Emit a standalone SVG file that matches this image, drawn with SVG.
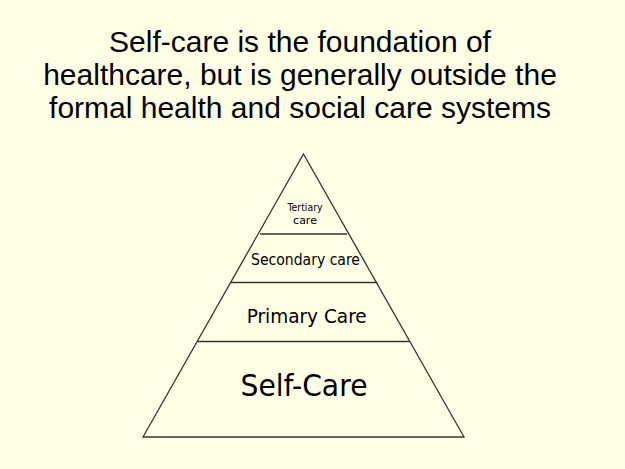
<svg xmlns="http://www.w3.org/2000/svg" width="625" height="469" viewBox="0 0 625 469">
<style>
.title{font-family:"Liberation Sans",Arial,sans-serif;font-size:30px;fill:#000;text-anchor:middle}
.lbl{font-family:"DejaVu Sans",Tahoma,sans-serif;fill:#000;text-anchor:middle}
.ln{stroke:#333;stroke-width:1.3;fill:none}
</style>
<rect width="625" height="469" fill="#ffffe6"/>
<g id="title">
<text class="title" x="300" y="52">Self-care is the foundation of</text>
<text class="title" x="300" y="85">healthcare, but is generally outside the</text>
<text class="title" x="300" y="118">formal health and social care systems</text>
</g>
<g id="pyramid">
<polygon class="ln" points="303.5,154 464,437 143,437"/>
</g>
<g id="connectors">
<line class="ln" x1="260" y1="234" x2="347" y2="234"/>
<line class="ln" x1="230" y1="282.5" x2="377.5" y2="282.5"/>
<line class="ln" x1="197.5" y1="341.5" x2="409.5" y2="341.5"/>
</g>
<g id="tertiary">
<text class="lbl" x="305" y="211" font-size="11" textLength="35" lengthAdjust="spacingAndGlyphs">Tertiary</text>
<text class="lbl" x="305" y="223.5" font-size="11">care</text>
</g>
<g id="secondary">
<text class="lbl" x="305.5" y="264.5" font-size="16" textLength="109" lengthAdjust="spacingAndGlyphs">Secondary care</text>
</g>
<g id="primary">
<text class="lbl" x="306.7" y="322.7" font-size="20" textLength="120" lengthAdjust="spacingAndGlyphs">Primary Care</text>
</g>
<g id="selfcare">
<text class="lbl" x="304" y="395.7" font-size="31" textLength="127" lengthAdjust="spacingAndGlyphs">Self-Care</text>
</g>
</svg>
